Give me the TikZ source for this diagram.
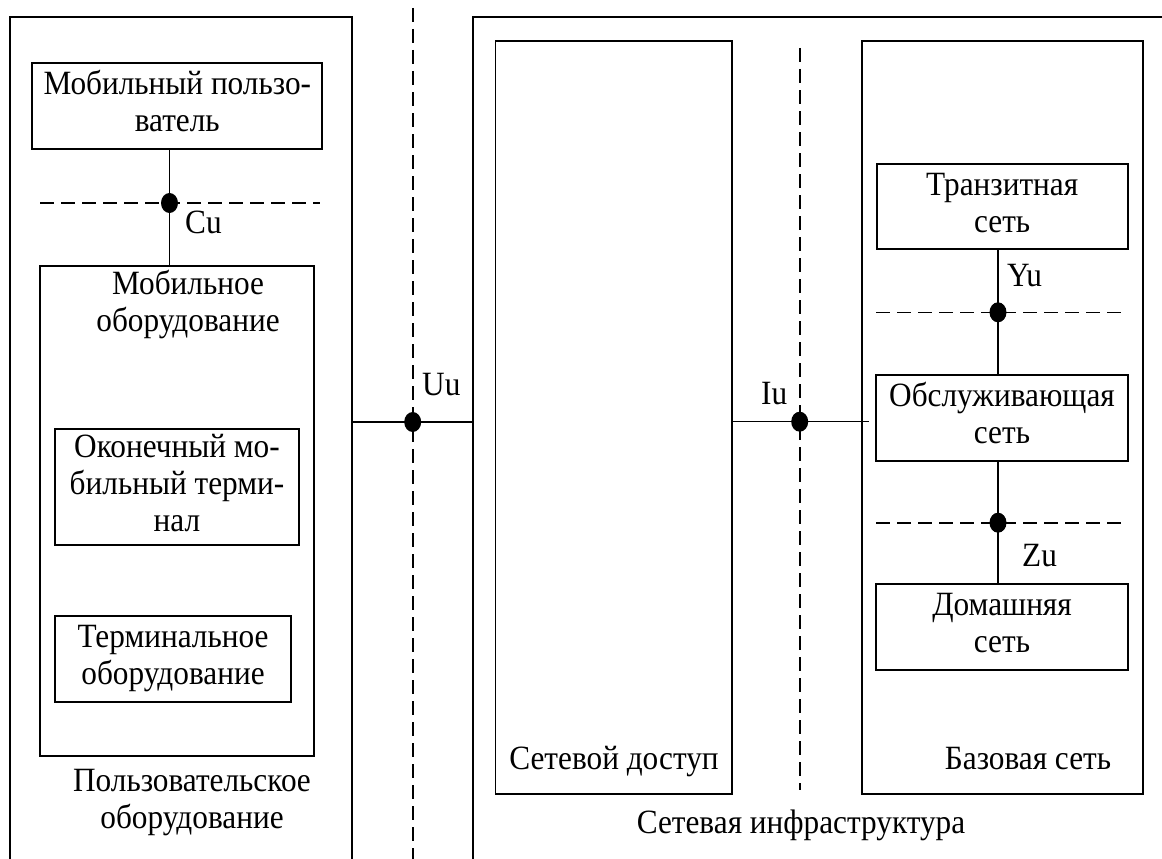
\documentclass[tikz,border=0pt]{standalone}
\usepackage{fontspec}
\setmainfont[FakeStretch=0.92]{Liberation Serif}
\newcommand\txtfont{\fontsize{34}{37}\selectfont}
\tikzset{
  box/.style={draw, line width=1.8pt, inner sep=0pt, align=center, font=\txtfont},
  lbl/.style={inner sep=0pt, align=center, font=\txtfont},
  frame/.style={line width=2pt},
  conn/.style={line width=1.5pt},
  dashln/.style={line width=1.6pt, dash pattern=on 14pt off 7pt},
  dotf/.style={fill=black}
}
\begin{document}
\begin{tikzpicture}[x=1pt, y=-1pt]
\useasboundingbox (0,0) rectangle (1162,859);
% outer frames (open at bottom)
\coordinate (lfbl) at (10,875);
\coordinate (lftl) at (10,17);
\coordinate (lftr) at (352,17);
\coordinate (lfbr) at (352,875);
\draw[frame] (lfbl) -- (lftl) -- (lftr) -- (lfbr);
\coordinate (rfbl) at (473,875);
\coordinate (rftl) at (473,17);
\coordinate (rftr) at (1180,17);
\draw[frame] (rfbl) -- (rftl) -- (rftr);

% left side boxes
\node[box, minimum width=290pt, minimum height=86pt] (mu) at (177.3,106) {\strut Мобильный пользо-\\\strut ватель};
\node[box, minimum width=274pt, minimum height=490pt] (me) at (177,511) {};
\node[lbl] (metxt) at (188,306) {\strut Мобильное\\\strut оборудование};
\node[box, minimum width=244pt, minimum height=116pt] (omt) at (177,487) {\strut Оконечный мо-\\\strut бильный терми-\\\strut нал};
\node[box, minimum width=236pt, minimum height=86pt] (te) at (173,659) {\strut Терминальное\\\strut оборудование};
\node[lbl] (uetxt) at (192,802.6) {\strut Пользовательское\\\strut оборудование};

% Cu
\coordinate (cu) at (169.5,203);
\draw[dashln] (40,203) -- (320,203);
\draw[conn] (mu.south -| cu) -- (me.north -| cu);
\fill[dotf] (cu) ellipse [x radius=8.5pt, y radius=10pt];
\node[lbl, anchor=base west] (cul) at (185,233) {Cu};

% Uu
\coordinate (uu) at (412.7,422);
\draw[dashln] (412.7,8) -- (412.7,875);
\draw[conn] (lftr |- uu) -- (rftl |- uu);
\fill[dotf] (uu) ellipse [x radius=8.5pt, y radius=10pt];
\node[lbl, anchor=base west] (uul) at (422,395) {Uu};

% right side boxes
\node[box, minimum width=236.5pt, minimum height=753.3pt] (na) at (613.75,417.35) {};
\node[box, minimum width=281pt, minimum height=753.3pt] (bn) at (1002.5,417.35) {};
\node[lbl, anchor=base] (natxt) at (614,769) {Сетевой доступ};
\node[lbl, anchor=base] (bntxt) at (1028,769) {Базовая сеть};
\node[lbl, anchor=base] (nitxt) at (801,833) {Сетевая инфраструктура};

\node[box, minimum width=251pt, minimum height=85pt] (tn) at (1002.2,206.5) {\strut Транзитная\\\strut сеть};
\node[box, minimum width=252pt, minimum height=86pt] (sn) at (1002,418) {\strut Обслуживающая\\\strut сеть};
\node[box, minimum width=252pt, minimum height=86pt] (hn) at (1002,627) {\strut Домашняя\\\strut сеть};

% Iu
\coordinate (iu) at (799.7,421.7);
\draw[dashln] (799.7,48) -- (799.7,790);
\draw[conn, shorten >=6pt] (na.east |- iu) -- (sn.west |- iu);
\fill[dotf] (iu) ellipse [x radius=8.5pt, y radius=10pt];
\node[lbl, anchor=base west] (iul) at (761,404) {Iu};

% Yu
\coordinate (yu) at (998,312.3);
\draw[dashln] (876,312.3) -- (1121,312.3);
\draw[conn] (tn.south -| yu) -- (sn.north -| yu);
\fill[dotf] (yu) ellipse [x radius=8.5pt, y radius=10pt];
\node[lbl, anchor=base west] (yul) at (1007,286) {Yu};

% Zu
\coordinate (zu) at (998,522.7);
\draw[dashln] (876,522.7) -- (1121,522.7);
\draw[conn] (sn.south -| zu) -- (hn.north -| zu);
\fill[dotf] (zu) ellipse [x radius=8.5pt, y radius=10pt];
\node[lbl, anchor=base west] (zul) at (1022,566) {Zu};
\end{tikzpicture}
\end{document}
